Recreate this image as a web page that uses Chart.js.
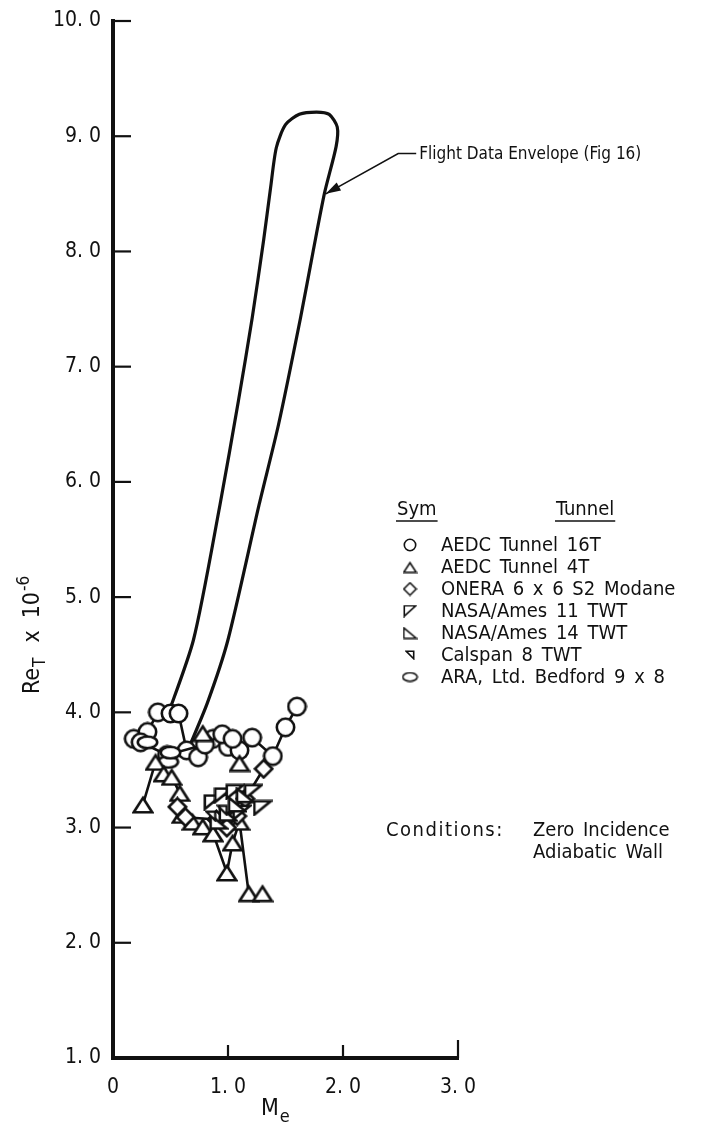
<!DOCTYPE html>
<html>
<head>
<meta charset="utf-8">
<script src="https://cdn.jsdelivr.net/npm/chart.js@4.4.0/dist/chart.umd.min.js"></script>
<style>
  html, body { margin: 0; padding: 0; background: #fff; }
</style>
</head>
<body>
<canvas id="myChart" width="727" height="1135"></canvas>
<script>
'use strict';
const FONT = "'Liberation Sans Narrow', 'DejaVu Sans Condensed', sans-serif";
const INK = '#111';

// axis ticks
let xTicks = [0, 1, 2, 3]
let yTicks = [1, 2, 3, 4, 5, 6, 7, 8, 9, 10]

// flight data envelope (outline)
let envX = [0.46, 0.70, 0.93, 1.09, 1.21, 1.31, 1.37, 1.42, 1.50, 1.62, 1.77, 1.88, 1.95, 1.94, 1.84, 1.74, 1.63, 1.44, 1.27, 1.00, 0.82, 0.65]
let envY = [3.93, 4.63, 5.80, 6.70, 7.42, 8.10, 8.55, 8.90, 9.10, 9.19, 9.21, 9.19, 9.08, 8.91, 8.51, 8.00, 7.42, 6.50, 5.80, 4.63, 4.08, 3.67]

// AEDC Tunnel 16T (circles)
let t16aX = [0.18, 0.30, 0.39, 0.50, 0.57, 0.64, 0.74, 0.87, 1.00, 1.10, 1.21, 1.39, 1.50, 1.60]
let t16aY = [3.77, 3.83, 4.00, 3.99, 3.99, 3.67, 3.61, 3.77, 3.70, 3.67, 3.78, 3.62, 3.87, 4.05]
let t16bX = [0.24, 0.47, 0.80, 0.95, 1.04]
let t16bY = [3.74, 3.63, 3.72, 3.81, 3.77]

// AEDC Tunnel 4T (triangles)
let t4aX = [0.26, 0.37, 0.44, 0.51, 0.58, 0.60, 0.69, 0.78, 0.87, 0.99, 1.04, 1.10, 1.18]
let t4aY = [3.20, 3.57, 3.47, 3.44, 3.30, 3.11, 3.05, 3.01, 2.95, 2.61, 2.87, 3.05, 2.43]
let t4bX = [0.78, 1.10, 1.30]
let t4bY = [3.82, 3.56, 2.43]

// ONERA 6 x 6 S2 Modane (diamonds)
let oneraX = [0.56, 0.63, 0.90, 0.99, 1.08, 1.15, 1.31]
let oneraY = [3.18, 3.09, 3.07, 3.00, 3.10, 3.25, 3.51]

// NASA/Ames 11 TWT
let ames11X = [0.87, 0.96, 1.06, 1.22]
let ames11Y = [3.22, 3.28, 3.31, 3.31]
let ames11bX = [1.12, 1.30]
let ames11bY = [3.13, 3.17]

// NASA/Ames 14 TWT
let ames14X = [0.92, 1.00, 1.08, 1.15]
let ames14Y = [3.05, 3.12, 3.20, 3.28]

// Calspan 8 TWT
let calspanX = [0.85, 0.95]
let calspanY = [3.10, 3.15]

// ARA, Ltd. Bedford 9 x 8
let araX = [0.30, 0.48, 0.50]
let araY = [3.74, 3.57, 3.65]

// annotation: text anchor and arrow tip (data units)
let noteFrom = [2.48, 8.85]
let noteTip = [1.85, 8.50]

function pts(xs, ys) {
  return xs.map(function (x, i) { return { x: x, y: ys[i] } })
}

function makeSym(kind, w, h, lw) {
  let c = document.createElement('canvas')
  c.width = w; c.height = h
  let g = c.getContext('2d')
  let p = lw / 2 + 0.5
  g.lineWidth = lw
  g.strokeStyle = INK
  g.fillStyle = '#fff'
  g.beginPath()
  if (kind === 'circle') g.arc(w / 2, h / 2, Math.min(w, h) / 2 - p, 0, Math.PI * 2)
  if (kind === 'ellipse') g.ellipse(w / 2, h / 2, w / 2 - p, h / 2 - p, 0, 0, Math.PI * 2)
  if (kind === 'tri') { g.moveTo(w / 2, p + 1); g.lineTo(w - p, h - p); g.lineTo(p, h - p); g.closePath() }
  if (kind === 'diamond') { g.moveTo(w / 2, p); g.lineTo(w - p, h / 2); g.lineTo(w / 2, h - p); g.lineTo(p, h / 2); g.closePath() }
  if (kind === 'topleft') { g.moveTo(p, p); g.lineTo(w - p, p); g.lineTo(p, h - p); g.closePath() }
  if (kind === 'botleft') { g.moveTo(p, p); g.lineTo(w - p, h - p); g.lineTo(p, h - p); g.closePath() }
  if (kind === 'calspan') { g.moveTo(p, p); g.lineTo(w - p, p); g.lineTo(w - p, h - p); g.closePath() }
  g.fill()
  g.stroke()
  return c
}

let symCircle = makeSym('circle', 21, 21, 2.6)
let symTri = makeSym('tri', 22, 19, 2.6)
let symDiamond = makeSym('diamond', 21, 21, 2.6)
let symTopLeft = makeSym('topleft', 20, 17, 2.6)
let symBotLeft = makeSym('botleft', 20, 17, 2.6)
let symCalspan = makeSym('calspan', 12, 12, 2.2)
let symEllipse = makeSym('ellipse', 23, 15, 2.6)

let legendRows = [
  ['AEDC Tunnel 16T', makeSym('circle', 14, 14, 1.6)],
  ['AEDC Tunnel 4T', makeSym('tri', 15, 13, 1.6)],
  ['ONERA 6 x 6 S2 Modane', makeSym('diamond', 15, 15, 1.6)],
  ['NASA/Ames 11 TWT', makeSym('topleft', 14, 13, 1.6)],
  ['NASA/Ames 14 TWT', makeSym('botleft', 15, 13, 1.6)],
  ['Calspan 8 TWT', makeSym('calspan', 10, 10, 1.6)],
  ['ARA, Ltd. Bedford 9 x 8', makeSym('ellipse', 17, 11, 1.6)]
]

function series(xs, ys, sym, line) {
  return {
    data: pts(xs, ys),
    showLine: line,
    borderColor: INK,
    borderWidth: 2.6,
    pointStyle: sym,
    pointRadius: 10,
    tension: 0
  }
}

let datasets = [
  series(calspanX, calspanY, symCalspan, false),
  series(ames14X, ames14Y, symBotLeft, true),
  series(ames11bX, ames11bY, symTopLeft, false),
  series(ames11X, ames11Y, symTopLeft, true),
  series(oneraX, oneraY, symDiamond, true),
  series(t4bX, t4bY, symTri, false),
  series(t4aX, t4aY, symTri, true),
  series(araX, araY, symEllipse, false),
  series(t16bX, t16bY, symCircle, true),
  series(t16aX, t16aY, symCircle, true),
  {
    data: pts(envX, envY),
    showLine: true,
    borderColor: INK,
    borderWidth: 3.2,
    pointRadius: 0,
    tension: 0.25
  }
]

function fmt(v) {
  if (v === 0) return '0'
  return v.toFixed(1).replace('.', '. ')
}

const decor = {
  id: 'decor',
  afterDraw(chart) {
    const ctx = chart.ctx
    const xs = chart.scales.x
    const ys = chart.scales.y
    const a = chart.chartArea
    ctx.save()
    ctx.strokeStyle = INK
    ctx.fillStyle = INK
    // inward tick marks
    ctx.lineWidth = 2.2
    yTicks.forEach(function (v) {
      if (v === 1) return
      let py = ys.getPixelForValue(v)
      ctx.beginPath(); ctx.moveTo(a.left, py); ctx.lineTo(a.left + 18, py); ctx.stroke()
    })
    xTicks.forEach(function (v) {
      if (v === 0) return
      let px = xs.getPixelForValue(v)
      let len = v === 3 ? 18 : 13
      ctx.beginPath(); ctx.moveTo(px, a.bottom); ctx.lineTo(px, a.bottom - len); ctx.stroke()
    })

    // axis titles
    ctx.textBaseline = 'alphabetic'
    ctx.textAlign = 'left'
    ctx.font = '23px ' + FONT
    ctx.fillText('M', 261, 1115)
    let mw = ctx.measureText('M').width
    ctx.font = '18px ' + FONT
    ctx.fillText('e', 261 + mw + 1, 1122)

    ctx.save()
    ctx.translate(39, 694)
    ctx.rotate(-Math.PI / 2)
    ctx.font = '23px ' + FONT
    ctx.fillText('Re', 0, 0)
    let w = ctx.measureText('Re').width
    ctx.font = '17px ' + FONT
    ctx.fillText('T', w + 1, 6)
    w += ctx.measureText('T').width + 16
    ctx.font = '23px ' + FONT
    ctx.fillText('x', w, 0)
    w += ctx.measureText('x').width + 12
    ctx.fillText('10', w, 0)
    w += ctx.measureText('10').width + 1
    ctx.font = '17px ' + FONT
    ctx.fillText('-6', w, -10)
    ctx.restore()

    // annotation with arrow
    let fx = xs.getPixelForValue(noteFrom[0]), fy = ys.getPixelForValue(noteFrom[1])
    let tx = xs.getPixelForValue(noteTip[0]), ty = ys.getPixelForValue(noteTip[1])
    ctx.lineWidth = 1.6
    ctx.beginPath(); ctx.moveTo(fx + 18, fy); ctx.lineTo(fx, fy); ctx.lineTo(tx, ty); ctx.stroke()
    let ang = Math.atan2(ty - fy, tx - fx)
    ctx.beginPath()
    ctx.moveTo(tx, ty)
    ctx.lineTo(tx - 15 * Math.cos(ang) + 4.5 * Math.sin(ang), ty - 15 * Math.sin(ang) - 4.5 * Math.cos(ang))
    ctx.lineTo(tx - 15 * Math.cos(ang) - 4.5 * Math.sin(ang), ty - 15 * Math.sin(ang) + 4.5 * Math.cos(ang))
    ctx.closePath(); ctx.fill()
    ctx.font = '17px ' + FONT
    ctx.textBaseline = 'middle'
    ctx.fillText('Flight Data Envelope (Fig 16)', fx + 21, fy + 1)

    // legend
    ctx.wordSpacing = '3px'
    ctx.font = '20px ' + FONT
    ctx.textBaseline = 'alphabetic'
    ctx.fillText('Sym', 397, 515)
    ctx.fillText('Tunnel', 556, 515)
    ctx.lineWidth = 1.4
    ctx.beginPath(); ctx.moveTo(396, 521); ctx.lineTo(398 + ctx.measureText('Sym').width, 521); ctx.stroke()
    ctx.beginPath(); ctx.moveTo(555, 521); ctx.lineTo(557 + ctx.measureText('Tunnel').width, 521); ctx.stroke()
    ctx.font = '20px ' + FONT
    ctx.textBaseline = 'middle'
    legendRows.forEach(function (row, i) {
      let cy = 545 + i * 22
      ctx.drawImage(row[1], 410 - row[1].width / 2, cy - row[1].height / 2)
      ctx.fillText(row[0], 441, cy + 1)
    })

    ctx.fillText('Zero Incidence', 533, 831)
    ctx.fillText('Adiabatic Wall', 533, 853)
    ctx.letterSpacing = '1.5px'
    ctx.fillText('Conditions:', 386, 831)
    ctx.restore()
  }
}

const ctx = document.getElementById('myChart')
const myChart = new Chart(ctx, {
  type: 'scatter',
  data: { datasets: datasets },
  options: {
    responsive: false,
    animation: false,
    events: [],
    layout: { padding: { top: 21, right: 269, left: 0, bottom: 0 } },
    plugins: { legend: { display: false }, tooltip: { enabled: false } },
    scales: {
      x: {
        type: 'linear',
        min: 0,
        max: 3,
        afterFit: function (s) { s.height = 77 },
        afterBuildTicks: function (s) { s.ticks = xTicks.map(function (v) { return { value: v } }) },
        grid: { display: false },
        border: { display: true, color: INK, width: 4 },
        ticks: { padding: 9, color: INK, font: { family: FONT, size: 21 }, callback: fmt }
      },
      y: {
        type: 'linear',
        min: 1,
        max: 10,
        afterFit: function (s) { s.width = 113 },
        afterBuildTicks: function (s) { s.ticks = yTicks.map(function (v) { return { value: v } }) },
        grid: { display: false },
        border: { display: true, color: INK, width: 4 },
        ticks: { padding: 4, color: INK, font: { family: FONT, size: 21 }, callback: fmt }
      }
    }
  },
  plugins: [decor]
})
</script>
</body>
</html>
